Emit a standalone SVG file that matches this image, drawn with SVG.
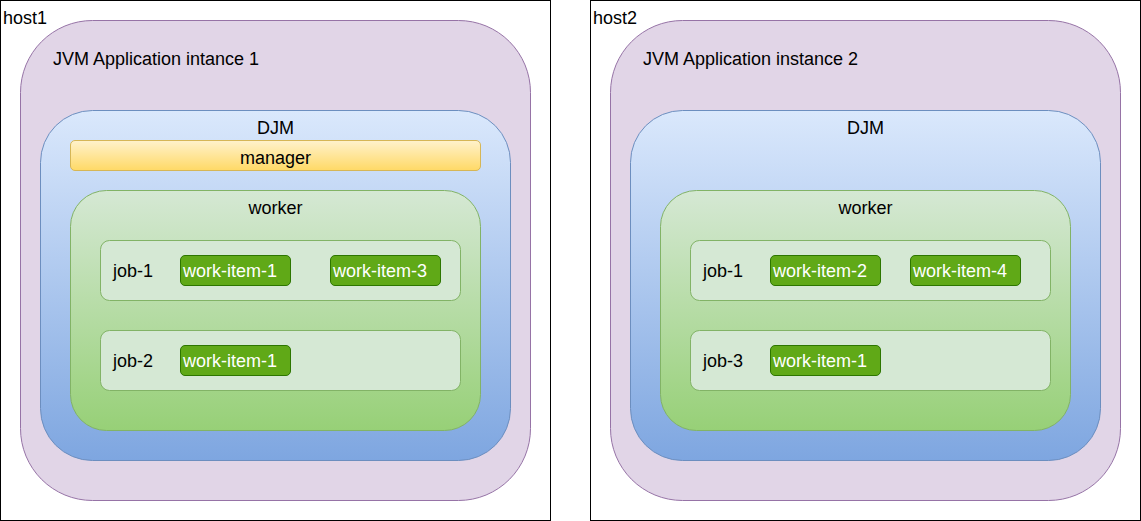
<svg xmlns="http://www.w3.org/2000/svg" width="1141" height="521" viewBox="0 0 1141 521">
<style>
text{font-family:"Liberation Sans",Arial,sans-serif;font-size:18px;fill:#000}
.c{text-anchor:middle}
.w{fill:#fff}
.host{fill:#fff;stroke:#000;stroke-width:1}
.jvm{fill:#e1d5e7;stroke:#9673a6}
.djm{fill:url(#gB);stroke:#6c8ebf}
.mgr{fill:url(#gY);stroke:#d6b656}
.wrk{fill:url(#gG);stroke:#82b366}
.job{fill:#d5e8d4;stroke:#82b366}
.wi{fill:#60a917;stroke:#2d7600}
</style>
<defs>
<linearGradient id="gB" x1="0" y1="0" x2="0" y2="1"><stop offset="0" stop-color="#dae8fc"/><stop offset="1" stop-color="#7ea6e0"/></linearGradient>
<linearGradient id="gY" x1="0" y1="0" x2="0" y2="1"><stop offset="0" stop-color="#fff2cc"/><stop offset="1" stop-color="#ffd966"/></linearGradient>
<linearGradient id="gG" x1="0" y1="0" x2="0" y2="1"><stop offset="0" stop-color="#d5e8d4"/><stop offset="1" stop-color="#97d077"/></linearGradient>
</defs>
<g id="host1">
<rect class="host" x="0.5" y="0.5" width="550" height="520"/>
<text x="3" y="24">host1</text>
</g>
<g id="jvm1">
<rect class="jvm" x="20.5" y="20.5" width="510" height="480" rx="72"/>
<text x="53" y="65">JVM Application intance 1</text>
</g>
<g id="djm1">
<rect class="djm" x="40.5" y="110.5" width="470" height="350" rx="52"/>
<text class="c" x="275.5" y="134">DJM</text>
</g>
<g id="manager1">
<rect class="mgr" x="70.5" y="140.5" width="410" height="30" rx="4.5"/>
<text class="c" x="275.5" y="164">manager</text>
</g>
<g id="worker1">
<rect class="wrk" x="70.5" y="190.5" width="410" height="240" rx="36"/>
<text class="c" x="275.5" y="214">worker</text>
</g>
<g id="h1job1">
<rect class="job" x="100.5" y="240.5" width="360" height="60" rx="9"/>
<text x="113" y="277">job-1</text>
</g>
<g id="h1job1wi1">
<rect class="wi" x="180.5" y="255.5" width="110" height="30" rx="4.5"/>
<text class="w" x="183" y="277">work-item-1</text>
</g>
<g id="h1job1wi3">
<rect class="wi" x="330.5" y="255.5" width="110" height="30" rx="4.5"/>
<text class="w" x="333" y="277">work-item-3</text>
</g>
<g id="h1job2">
<rect class="job" x="100.5" y="330.5" width="360" height="60" rx="9"/>
<text x="113" y="367">job-2</text>
</g>
<g id="h1job2wi1">
<rect class="wi" x="180.5" y="345.5" width="110" height="30" rx="4.5"/>
<text class="w" x="183" y="367">work-item-1</text>
</g>

<g id="host2">
<rect class="host" x="590.5" y="0.5" width="550" height="520"/>
<text x="593" y="24">host2</text>
</g>
<g id="jvm2">
<rect class="jvm" x="610.5" y="20.5" width="510" height="480" rx="72"/>
<text x="643" y="65">JVM Application instance 2</text>
</g>
<g id="djm2">
<rect class="djm" x="630.5" y="110.5" width="470" height="350" rx="52"/>
<text class="c" x="865.5" y="134">DJM</text>
</g>
<g id="worker2">
<rect class="wrk" x="660.5" y="190.5" width="410" height="240" rx="36"/>
<text class="c" x="865.5" y="214">worker</text>
</g>
<g id="h2job1">
<rect class="job" x="690.5" y="240.5" width="360" height="60" rx="9"/>
<text x="703" y="277">job-1</text>
</g>
<g id="h2job1wi2">
<rect class="wi" x="770.5" y="255.5" width="110" height="30" rx="4.5"/>
<text class="w" x="773" y="277">work-item-2</text>
</g>
<g id="h2job1wi4">
<rect class="wi" x="910.5" y="255.5" width="110" height="30" rx="4.5"/>
<text class="w" x="913" y="277">work-item-4</text>
</g>
<g id="h2job3">
<rect class="job" x="690.5" y="330.5" width="360" height="60" rx="9"/>
<text x="703" y="367">job-3</text>
</g>
<g id="h2job3wi1">
<rect class="wi" x="770.5" y="345.5" width="110" height="30" rx="4.5"/>
<text class="w" x="773" y="367">work-item-1</text>
</g>
<g id="connectors"/>
</svg>
